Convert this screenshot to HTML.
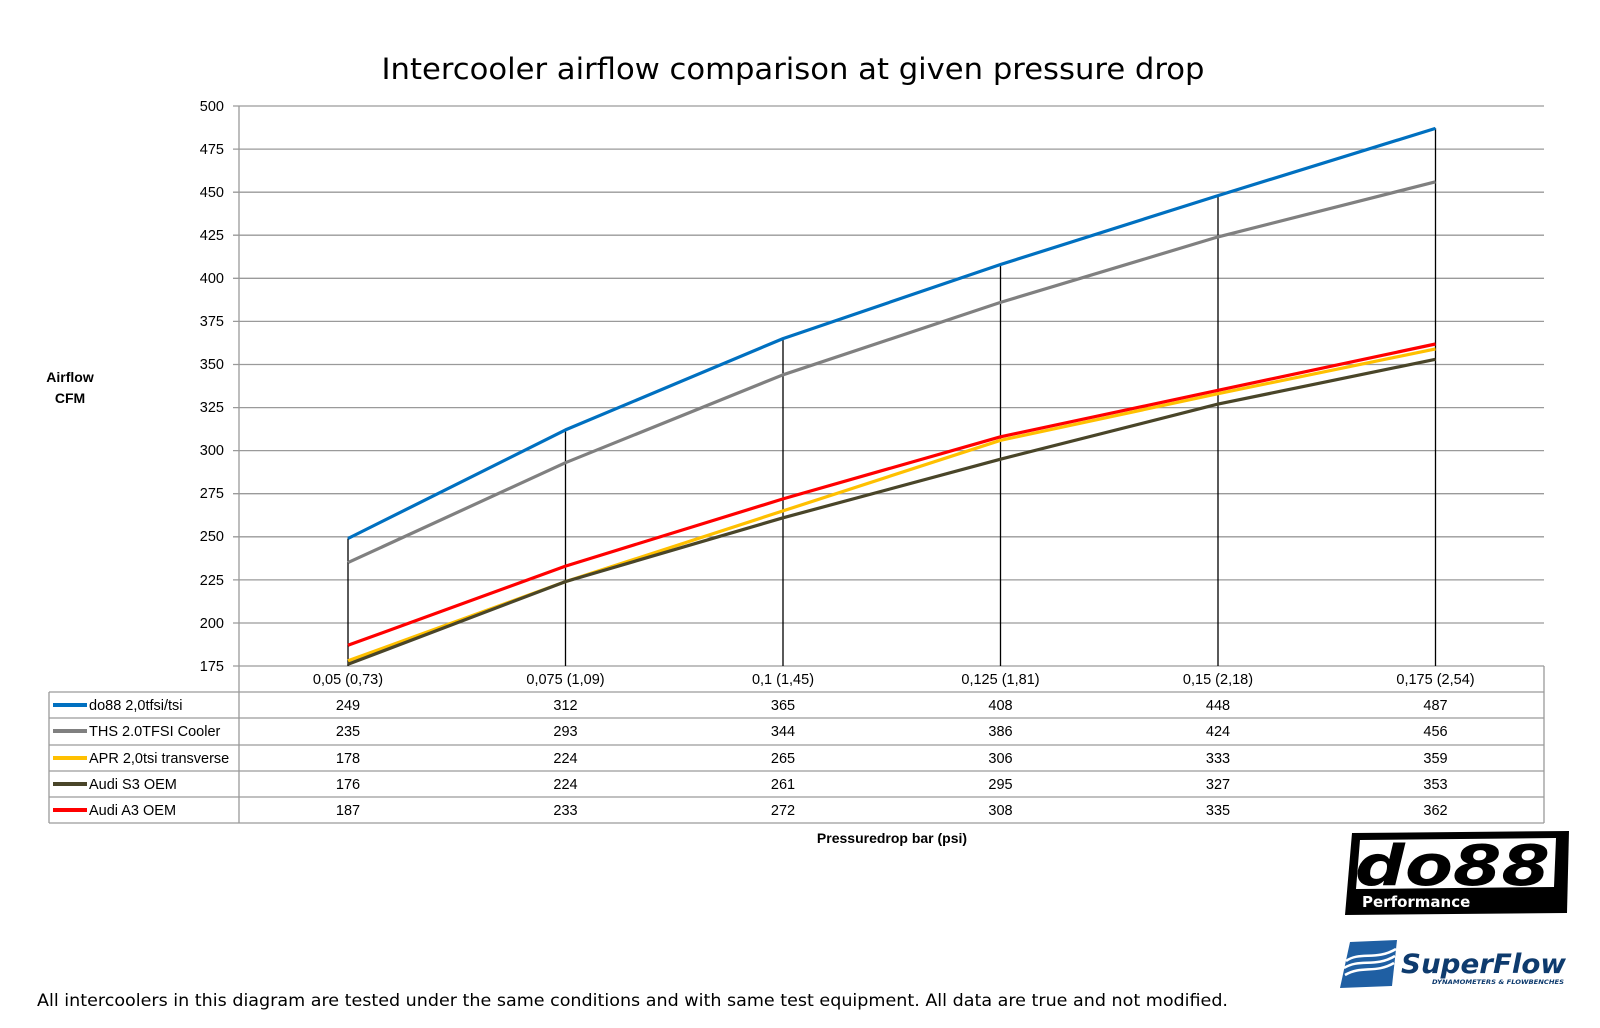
<!DOCTYPE html>
<html><head><meta charset="utf-8"><style>
html,body{margin:0;padding:0;background:#fff;width:1600px;height:1028px;overflow:hidden}
svg{display:block}
.t{font-family:"Liberation Sans",sans-serif;font-size:14.5px;fill:#000}
</style></head><body>
<svg width="1600" height="1028" viewBox="0 0 1600 1028" xmlns="http://www.w3.org/2000/svg">
<text x="793" y="79" text-anchor="middle" font-family="DejaVu Sans, sans-serif" font-size="29" textLength="823" lengthAdjust="spacingAndGlyphs" fill="#000">Intercooler airflow comparison at given pressure drop</text>
<g stroke="#9a9a9a" stroke-width="1.3">
<line x1="233" x2="1544" y1="106" y2="106"/><line x1="233" x2="1544" y1="149.1" y2="149.1"/><line x1="233" x2="1544" y1="192.2" y2="192.2"/><line x1="233" x2="1544" y1="235.2" y2="235.2"/><line x1="233" x2="1544" y1="278.3" y2="278.3"/><line x1="233" x2="1544" y1="321.4" y2="321.4"/><line x1="233" x2="1544" y1="364.5" y2="364.5"/><line x1="233" x2="1544" y1="407.6" y2="407.6"/><line x1="233" x2="1544" y1="450.6" y2="450.6"/><line x1="233" x2="1544" y1="493.7" y2="493.7"/><line x1="233" x2="1544" y1="536.8" y2="536.8"/><line x1="233" x2="1544" y1="579.9" y2="579.9"/><line x1="233" x2="1544" y1="623" y2="623"/><line x1="233" x2="1544" y1="666" y2="666"/>
<line x1="239" x2="239" y1="106" y2="666"/>
</g>
<g class="t" text-anchor="end">
<text x="224" y="111">500</text><text x="224" y="154">475</text><text x="224" y="197">450</text><text x="224" y="240">425</text><text x="224" y="283">400</text><text x="224" y="326">375</text><text x="224" y="369">350</text><text x="224" y="412">325</text><text x="224" y="455">300</text><text x="224" y="498">275</text><text x="224" y="541">250</text><text x="224" y="585">225</text><text x="224" y="628">200</text><text x="224" y="671">175</text>
</g>
<g stroke="#000" stroke-width="1.3">
<line x1="348" x2="348" y1="538.5" y2="666"/><line x1="565.5" x2="565.5" y1="429.9" y2="666"/><line x1="783" x2="783" y1="338.6" y2="666"/><line x1="1000.5" x2="1000.5" y1="264.5" y2="666"/><line x1="1218" x2="1218" y1="195.6" y2="666"/><line x1="1435.5" x2="1435.5" y1="128.4" y2="666"/>
</g>
<g fill="none" stroke-width="3.2" stroke-linejoin="round">
<polyline stroke="#808080" points="348,562.6 565.5,462.7 783,374.8 1000.5,302.4 1218,236.9 1435.5,181.8"/>
<polyline stroke="#0070c0" points="348,538.5 565.5,429.9 783,338.6 1000.5,264.5 1218,195.6 1435.5,128.4"/>
<polyline stroke="#ffc000" points="348,660.8 565.5,581.6 783,510.9 1000.5,440.3 1218,393.7 1435.5,348.9"/>
<polyline stroke="#494529" points="348,664.3 565.5,581.6 783,517.8 1000.5,459.2 1218,404.1 1435.5,359.3"/>
<polyline stroke="#ff0000" points="348,645.3 565.5,566.1 783,498.9 1000.5,436.8 1218,390.3 1435.5,344"/>
</g>
<g stroke="#9a9a9a" stroke-width="1.3" fill="none">
<line x1="1544" x2="1544" y1="666" y2="823"/>
<line x1="49" x2="1544" y1="692" y2="692"/><line x1="49" x2="1544" y1="718" y2="718"/><line x1="49" x2="1544" y1="745" y2="745"/><line x1="49" x2="1544" y1="771" y2="771"/><line x1="49" x2="1544" y1="797" y2="797"/><line x1="49" x2="1544" y1="823" y2="823"/>
<line x1="49" x2="49" y1="692" y2="823"/><line x1="239" x2="239" y1="666" y2="823"/>
</g>
<g stroke-width="4">
<line x1="53" x2="87" y1="705" y2="705" stroke="#0070c0"/><line x1="53" x2="87" y1="731" y2="731" stroke="#808080"/><line x1="53" x2="87" y1="758" y2="758" stroke="#ffc000"/><line x1="53" x2="87" y1="784" y2="784" stroke="#494529"/><line x1="53" x2="87" y1="810" y2="810" stroke="#ff0000"/>
</g>
<g class="t">
<text x="89" y="710">do88 2,0tfsi/tsi</text><text x="89" y="736">THS 2.0TFSI Cooler</text><text x="89" y="763">APR 2,0tsi transverse</text><text x="89" y="789">Audi S3 OEM</text><text x="89" y="815">Audi A3 OEM</text>
</g>
<g class="t" text-anchor="middle">
<text x="348" y="684">0,05 (0,73)</text><text x="565.5" y="684">0,075 (1,09)</text><text x="783" y="684">0,1 (1,45)</text><text x="1000.5" y="684">0,125 (1,81)</text><text x="1218" y="684">0,15 (2,18)</text><text x="1435.5" y="684">0,175 (2,54)</text>
<text x="348" y="710">249</text><text x="565.5" y="710">312</text><text x="783" y="710">365</text><text x="1000.5" y="710">408</text><text x="1218" y="710">448</text><text x="1435.5" y="710">487</text>
<text x="348" y="736">235</text><text x="565.5" y="736">293</text><text x="783" y="736">344</text><text x="1000.5" y="736">386</text><text x="1218" y="736">424</text><text x="1435.5" y="736">456</text>
<text x="348" y="763">178</text><text x="565.5" y="763">224</text><text x="783" y="763">265</text><text x="1000.5" y="763">306</text><text x="1218" y="763">333</text><text x="1435.5" y="763">359</text>
<text x="348" y="789">176</text><text x="565.5" y="789">224</text><text x="783" y="789">261</text><text x="1000.5" y="789">295</text><text x="1218" y="789">327</text><text x="1435.5" y="789">353</text>
<text x="348" y="815">187</text><text x="565.5" y="815">233</text><text x="783" y="815">272</text><text x="1000.5" y="815">308</text><text x="1218" y="815">335</text><text x="1435.5" y="815">362</text>
<text x="70" y="382" font-weight="bold" font-size="14">Airflow</text><text x="70" y="403" font-weight="bold" font-size="14">CFM</text>
<text x="892" y="843" font-weight="bold" font-size="14">Pressuredrop bar (psi)</text>
</g>
<text x="37" y="1006" font-family="DejaVu Sans, sans-serif" font-size="16.5" textLength="1191" lengthAdjust="spacingAndGlyphs" fill="#000">All intercoolers in this diagram are tested under the same conditions and with same test equipment. All data are true and not modified.</text>
<!-- do88 logo -->
<polygon points="1352,833 1569,831 1567,913 1345,915" fill="#000"/>
<polygon points="1360,840 1556,838 1554,887 1356,889" fill="#fff"/>
<text x="1355" y="885" font-family="DejaVu Sans, sans-serif" font-weight="bold" font-style="italic" font-size="56" textLength="195" lengthAdjust="spacingAndGlyphs" fill="#000">do88</text>
<text x="1362" y="907" font-family="DejaVu Sans, sans-serif" font-weight="bold" font-size="15" fill="#fff">Performance</text>
<!-- SuperFlow logo -->
<polygon points="1350,942 1397,940 1392,986 1340,988" fill="#1f5fa3"/>
<path d="M1344,968 C1360,958 1375,968 1395,956 M1345,975 C1362,965 1375,974 1394,963 M1346,961 C1360,951 1376,961 1396,949" stroke="#fff" stroke-width="2.5" fill="none"/>
<text x="1401" y="973" font-family="DejaVu Sans, sans-serif" font-weight="bold" font-style="italic" font-size="27" textLength="165" lengthAdjust="spacingAndGlyphs" fill="#0e3b6e">SuperFlow</text>
<text x="1432" y="984" font-family="DejaVu Sans, sans-serif" font-weight="bold" font-style="italic" font-size="6.5" textLength="132" lengthAdjust="spacingAndGlyphs" fill="#0e3b6e">DYNAMOMETERS &amp; FLOWBENCHES</text>
</svg>
</body></html>
